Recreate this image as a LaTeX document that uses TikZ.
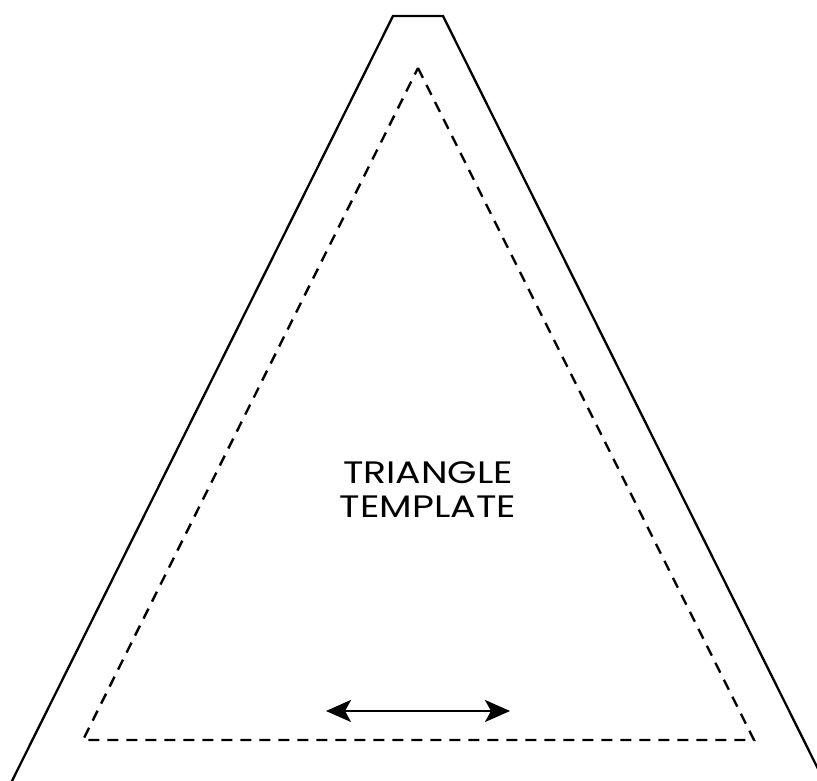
\documentclass[tikz,border=0pt]{standalone}
\usepackage{fontspec}
\setmainfont{Poppins}[FakeStretch=1.22]
\usetikzlibrary{ arrows.meta, % For the stealth tips
                 positioning,
               }
\tikzstyle{cutline} = [line width=2.3pt, line join=miter]
\tikzstyle{foldline} = [line width=2.4pt, dash pattern=on 11pt off 8pt]
\tikzstyle{grain} = [line width=2.4pt, {Stealth[length=25pt, width=22pt, inset=6pt]}-{Stealth[length=25pt, width=22pt, inset=6pt]}]
\tikzstyle{title} = [align=center, font=\fontsize{31}{34}\selectfont, inner sep=0pt]

\begin{document}
\begin{tikzpicture}[x=1pt, y=1pt]
  \useasboundingbox (0, 0) rectangle (817, 781);
  \clip (0, 0) rectangle (817, 781);
  % outer cut line
  \draw [cutline] (7, -10) -- (393, 765) -- (443, 765) -- (829, -10);
  % inner seam line
  \draw [foldline] (418, 713) -- (754, 41) -- (83, 41) -- cycle;
  \node (lbl) [title] at (428, 291) {TRIANGLE\\TEMPLATE};
  \coordinate (g1) at (326, 70);
  \coordinate (g2) at (510, 70);
  \draw [grain] (g1) -- (g2);
\end{tikzpicture}
\end{document}
